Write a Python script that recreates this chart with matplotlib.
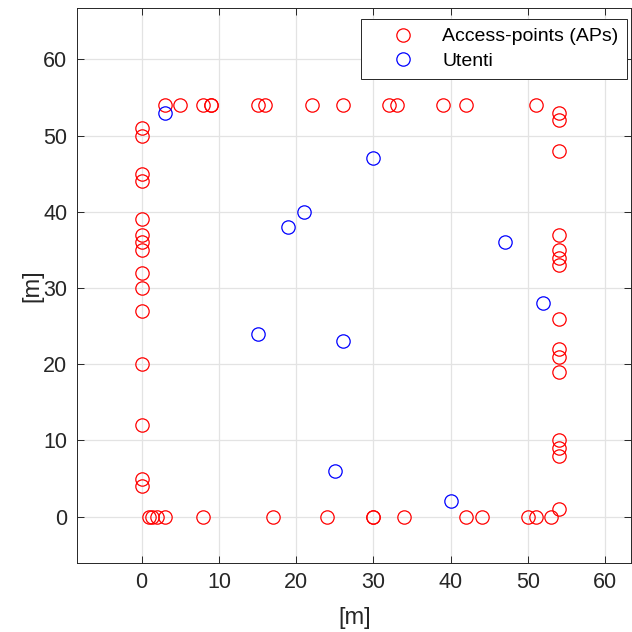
import matplotlib
matplotlib.use('Agg')
import matplotlib.pyplot as plt

plt.rcParams['font.family'] = ['Liberation Sans', 'DejaVu Sans']

# Access points (red)
ap_x = [0, 0, 0, 0, 0, 0, 0, 0, 0, 0, 0, 0, 0, 0, 0,
        1, 1.3, 2, 3, 8, 17, 24, 30, 30, 34, 42, 44, 50, 51, 53,
        3, 5, 8, 9, 9, 15, 16, 22, 26, 32, 33, 39, 42, 51,
        54, 54, 54, 54, 54, 54, 54, 54, 54, 54, 54, 54, 54, 54, 54]
ap_y = [51, 50, 45, 44, 39, 37, 36, 35, 32, 30, 27, 20, 12, 5, 4,
        0, 0, 0, 0, 0, 0, 0, 0, 0, 0, 0, 0, 0, 0, 0,
        54, 54, 54, 54, 54, 54, 54, 54, 54, 54, 54, 54, 54, 54,
        53, 52, 48, 37, 35, 34, 33, 26, 22, 21, 19, 10, 9, 8, 1]

# Users (blue)
ut_x = [3, 30, 21, 19, 47, 52, 15, 26, 25, 40]
ut_y = [53, 47, 40, 38, 36, 28, 24, 23, 6, 2]

fig = plt.figure(figsize=(6.32, 6.32), dpi=100)
ax = fig.add_axes([0.1218, 0.1097, 0.8774, 0.8777])

ax.plot(ap_x, ap_y, 'o', mfc='none', mec='r', ms=9.6, mew=0.9, ls='none',
        label='Access-points (APs)')
ax.plot(ut_x, ut_y, 'o', mfc='none', mec='b', ms=9.6, mew=0.9, ls='none',
        label='Utenti')

ax.set_xlim(-8.37, 63.4)
ax.set_ylim(-6.04, 66.75)
ax.set_xticks(range(0, 61, 10))
ax.set_yticks(range(0, 61, 10))
ax.grid(True, color='#e3e3e3', lw=0.9)
ax.set_axisbelow(True)
ax.tick_params(direction='in', labelsize=15.5, length=5, width=0.7, pad=7,
               top=True, right=True, colors='#262626', labelcolor='#262626')
for s in ax.spines.values():
    s.set_color('#262626')
    s.set_linewidth(0.7)
ax.set_xlabel('[m]', fontsize=17, color='#262626', labelpad=10)
ax.set_ylabel('[m]', fontsize=17, color='#262626', labelpad=-0.5)

leg = ax.legend(loc='upper right', bbox_to_anchor=(627 / 632, 1 - 19 / 632),
                bbox_transform=fig.transFigure, fontsize=14, fancybox=False,
                edgecolor='#262626', framealpha=1, borderpad=0.45,
                handletextpad=0.3, handlelength=3.4, borderaxespad=0,
                labelspacing=0.35)
leg.get_frame().set_linewidth(0.7)

fig.savefig('out.png', dpi=100)
